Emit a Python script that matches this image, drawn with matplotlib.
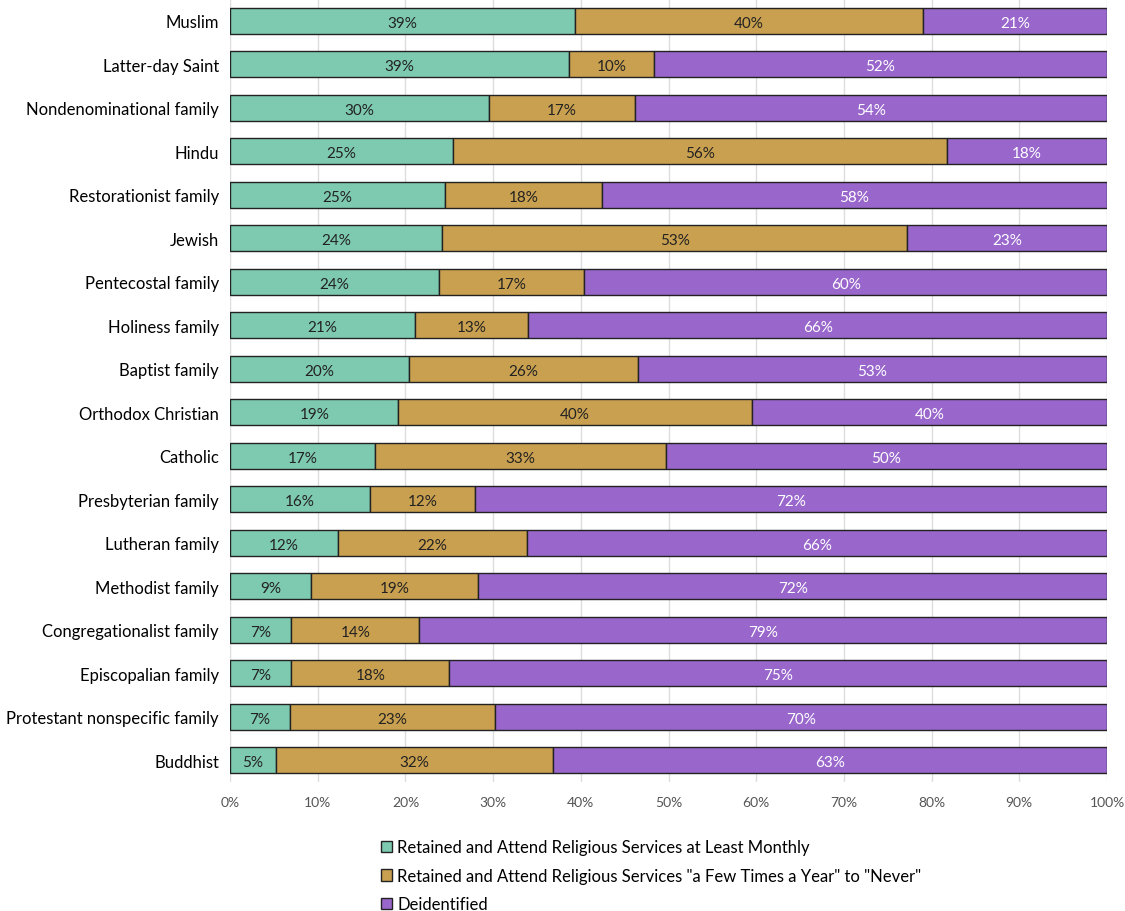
import matplotlib
matplotlib.use("Agg")
import matplotlib.pyplot as plt
from matplotlib.ticker import FuncFormatter

categories = ["Muslim", "Latter-day Saint", "Nondenominational family", "Hindu",
              "Restorationist family", "Jewish", "Pentecostal family", "Holiness family",
              "Baptist family", "Orthodox Christian", "Catholic", "Presbyterian family",
              "Lutheran family", "Methodist family", "Congregationalist family",
              "Episcopalian family", "Protestant nonspecific family", "Buddhist"]
monthly = [39.3, 38.7, 29.5, 25.4, 24.5, 24.2, 23.8, 21.1, 20.4, 19.2, 16.5, 16.0, 12.3, 9.2, 7.0, 7.0, 6.8, 5.2]
fewtimes = [39.7, 9.6, 16.7, 56.4, 17.9, 53.0, 16.6, 12.9, 26.1, 40.3, 33.2, 11.9, 21.6, 19.1, 14.6, 18.0, 23.4, 31.6]
deident = [21.0, 51.7, 53.8, 18.2, 57.6, 22.8, 59.6, 66.0, 53.5, 40.5, 50.3, 72.1, 66.1, 71.7, 78.4, 75.0, 69.8, 63.2]
lab_monthly = ["39%", "39%", "30%", "25%", "25%", "24%", "24%", "21%", "20%", "19%", "17%", "16%", "12%", "9%", "7%", "7%", "7%", "5%"]
lab_few = ["40%", "10%", "17%", "56%", "18%", "53%", "17%", "13%", "26%", "40%", "33%", "12%", "22%", "19%", "14%", "18%", "23%", "32%"]
lab_de = ["21%", "52%", "54%", "18%", "58%", "23%", "60%", "66%", "53%", "40%", "50%", "72%", "66%", "72%", "79%", "75%", "70%", "63%"]
series_names = ["Retained and Attend Religious Services at Least Monthly",
                'Retained and Attend Religious Services "a Few Times a Year" to "Never"',
                "Deidentified"]
colors = ["#7ecab0", "#c9a04f", "#9966cc"]
text_colors = ["#222222", "#222222", "white"]

plt.rcParams['font.family'] = ['Lato', 'DejaVu Sans']
fig = plt.figure(figsize=(11.25, 9.12), dpi=100)
ax = fig.add_axes([0.2045, 0.1414, 0.7795, 0.8586])
y = list(range(len(categories)))
left = [0] * len(categories)
for vals, labs, c, tc, name in zip([monthly, fewtimes, deident], [lab_monthly, lab_few, lab_de],
                                   colors, text_colors, series_names):
    bars = ax.barh(y, vals, left=left, height=0.6, color=c, edgecolor="#222222", linewidth=1, label=name, zorder=3)
    for b, l in zip(bars, labs):
        ax.text(b.get_x() + b.get_width() / 2, b.get_y() + b.get_height() / 2 + 0.05, l,
                ha="center", va="center", fontsize=11, color=tc, zorder=4)
    left = [a + b for a, b in zip(left, vals)]

ax.set_yticks(y)
ax.set_yticklabels(categories, fontsize=12)
ax.set_ylim(len(categories) - 0.5, -0.5)
ax.set_xlim(0, 100)
ax.set_xticks(range(0, 101, 10))
ax.xaxis.set_major_formatter(FuncFormatter(lambda v, p: f"{int(v)}%"))
ax.tick_params(axis="x", labelsize=10, colors="#555555", length=0, pad=10)
ax.tick_params(axis="y", length=0, pad=8)
ax.grid(axis="x", color="#dddddd", linewidth=1, zorder=0)
for s in ax.spines.values():
    s.set_visible(False)
leg = fig.legend(loc="upper left", bbox_to_anchor=(0.325, 0.095), frameon=False, fontsize=12,
                 handlelength=0.7, handleheight=0.7, handletextpad=0.3, labelspacing=0.75)
fig.savefig("out.png", dpi=100)
